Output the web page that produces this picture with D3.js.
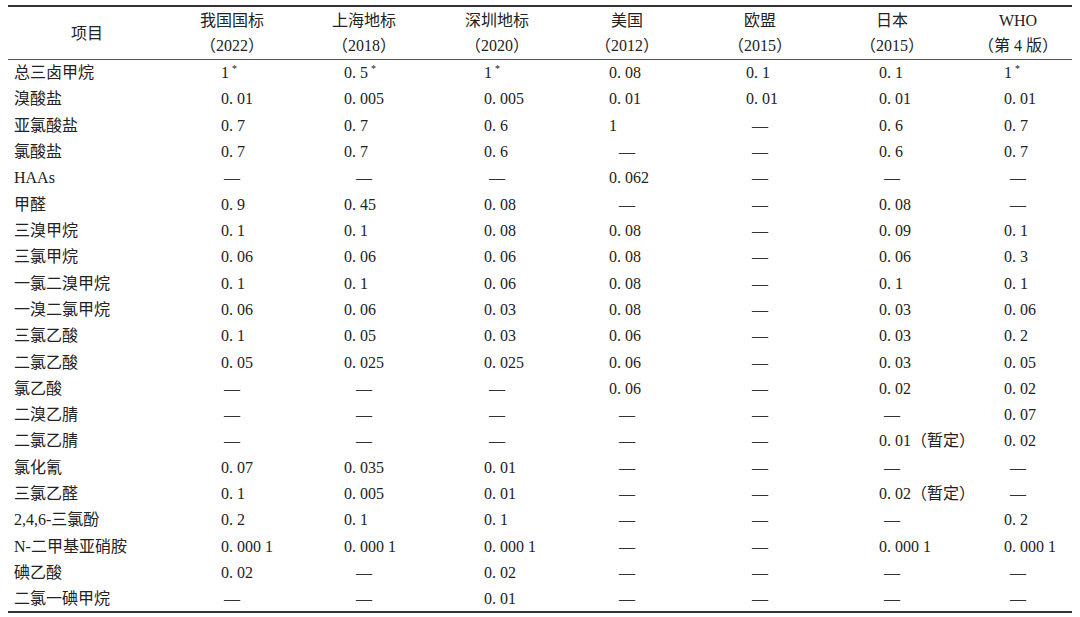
<!DOCTYPE html>
<html><head><meta charset="utf-8">
<script src="https://cdn.jsdelivr.net/npm/d3@7"></script>
<style>body{margin:0;background:#fff}svg{display:block}</style></head>
<body><svg id="c" width="1080" height="617"></svg>
<script>
// ---------- data ----------
const items = ["总三卤甲烷","溴酸盐","亚氯酸盐","氯酸盐","HAAs","甲醛","三溴甲烷","三氯甲烷","一氯二溴甲烷","一溴二氯甲烷","三氯乙酸","二氯乙酸","氯乙酸","二溴乙腈","二氯乙腈","氯化氰","三氯乙醛","2,4,6-三氯酚","N-二甲基亚硝胺","碘乙酸","二氯一碘甲烷"];
const headerTitle = "项目";
const headerLine1 = ["我国国标","上海地标","深圳地标","美国","欧盟","日本","WHO"];
const headerLine2 = ["（2022）","（2018）","（2020）","（2012）","（2015）","（2015）","（第 4 版）"];
const gb2022 = ["1*","0. 01","0. 7","0. 7","—","0. 9","0. 1","0. 06","0. 1","0. 06","0. 1","0. 05","—","—","—","0. 07","0. 1","0. 2","0. 000 1","0. 02","—"];
const sh2018 = ["0. 5*","0. 005","0. 7","0. 7","—","0. 45","0. 1","0. 06","0. 1","0. 06","0. 05","0. 025","—","—","—","0. 035","0. 005","0. 1","0. 000 1","—","—"];
const sz2020 = ["1*","0. 005","0. 6","0. 6","—","0. 08","0. 08","0. 06","0. 06","0. 03","0. 03","0. 025","—","—","—","0. 01","0. 01","0. 1","0. 000 1","0. 02","0. 01"];
const us2012 = ["0. 08","0. 01","1","—","0. 062","—","0. 08","0. 08","0. 08","0. 08","0. 06","0. 06","0. 06","—","—","—","—","—","—","—","—"];
const eu2015 = ["0. 1","0. 01","—","—","—","—","—","—","—","—","—","—","—","—","—","—","—","—","—","—","—"];
const jp2015 = ["0. 1","0. 01","0. 6","0. 6","—","0. 08","0. 09","0. 06","0. 1","0. 03","0. 03","0. 03","0. 02","—","0. 01（暂定）","—","0. 02（暂定）","—","0. 000 1","—","—"];
const who4   = ["1*","0. 01","0. 7","0. 7","—","—","0. 1","0. 3","0. 1","0. 06","0. 2","0. 05","0. 02","0. 07","0. 02","—","—","0. 2","0. 000 1","—","—"];
const columns = [gb2022, sh2018, sz2020, us2012, eu2015, jp2015, who4];

// ---------- layout ----------
const W = 1080, left = 8, right = 1072;
const topRule = 6, headRule = 59.5, bottomRule = 612;
const colKeys = d3.range(columns.length);
const xCenter = d3.scaleOrdinal().domain(colKeys).range([232,364,497,627,760,892,1018]);
const xLeft   = d3.scaleOrdinal().domain(colKeys).range([221,344,484,609,746,879,1004]);
const y = d3.scaleBand().domain(items).range([headRule, bottomRule]);
const FONT = "'Liberation Serif','Times New Roman','Noto Sans CJK SC',serif";
const TXT = "#222";

const svg = d3.select("#c");
svg.append("rect").attr("width", W).attr("height", 617).attr("fill", "#fff");

// rules
svg.append("line").attr("x1", left).attr("x2", right).attr("y1", topRule).attr("y2", topRule)
  .attr("stroke", "#333").attr("stroke-width", 2);
svg.append("line").attr("x1", left).attr("x2", right).attr("y1", headRule).attr("y2", headRule)
  .attr("stroke", "#555").attr("stroke-width", 1);
svg.append("line").attr("x1", left).attr("x2", right).attr("y1", bottomRule).attr("y2", bottomRule)
  .attr("stroke", "#333").attr("stroke-width", 2);

const g = svg.append("g").attr("font-family", FONT).attr("font-size", 16).attr("fill", TXT);

// header
g.append("text").attr("x", 87).attr("y", 39).attr("text-anchor", "middle").text(headerTitle);
g.selectAll("text.h1").data(headerLine1).join("text").attr("class", "h1")
  .attr("x", (d, i) => xCenter(i)).attr("y", 26).attr("text-anchor", "middle").text(d => d);
g.selectAll("text.h2").data(headerLine2).join("text").attr("class", "h2")
  .attr("x", (d, i) => xCenter(i)).attr("y", 51).attr("text-anchor", "middle").text(d => d);

const base = d => y(d) + y.bandwidth() / 2 + 5.5;

// row labels
g.selectAll("text.item").data(items).join("text").attr("class", "item")
  .attr("x", 14).attr("y", d => base(d)).text(d => d);

// cells
columns.forEach((col, ci) => {
  col.forEach((v, ri) => {
    const yy = base(items[ri]);
    if (v === "—") {
      g.append("text").attr("x", xCenter(ci)).attr("y", yy).attr("text-anchor", "middle")
        .attr("fill", "#333").text("—");
    } else {
      const t = g.append("text").attr("x", xLeft(ci)).attr("y", yy);
      if (v.endsWith("*")) {
        t.append("tspan").text(v.slice(0, -1));
        t.append("tspan").attr("font-size", 10).attr("dx", 3).attr("dy", -6).text("*");
      } else {
        t.text(v);
      }
    }
  });
});
</script></body></html>
